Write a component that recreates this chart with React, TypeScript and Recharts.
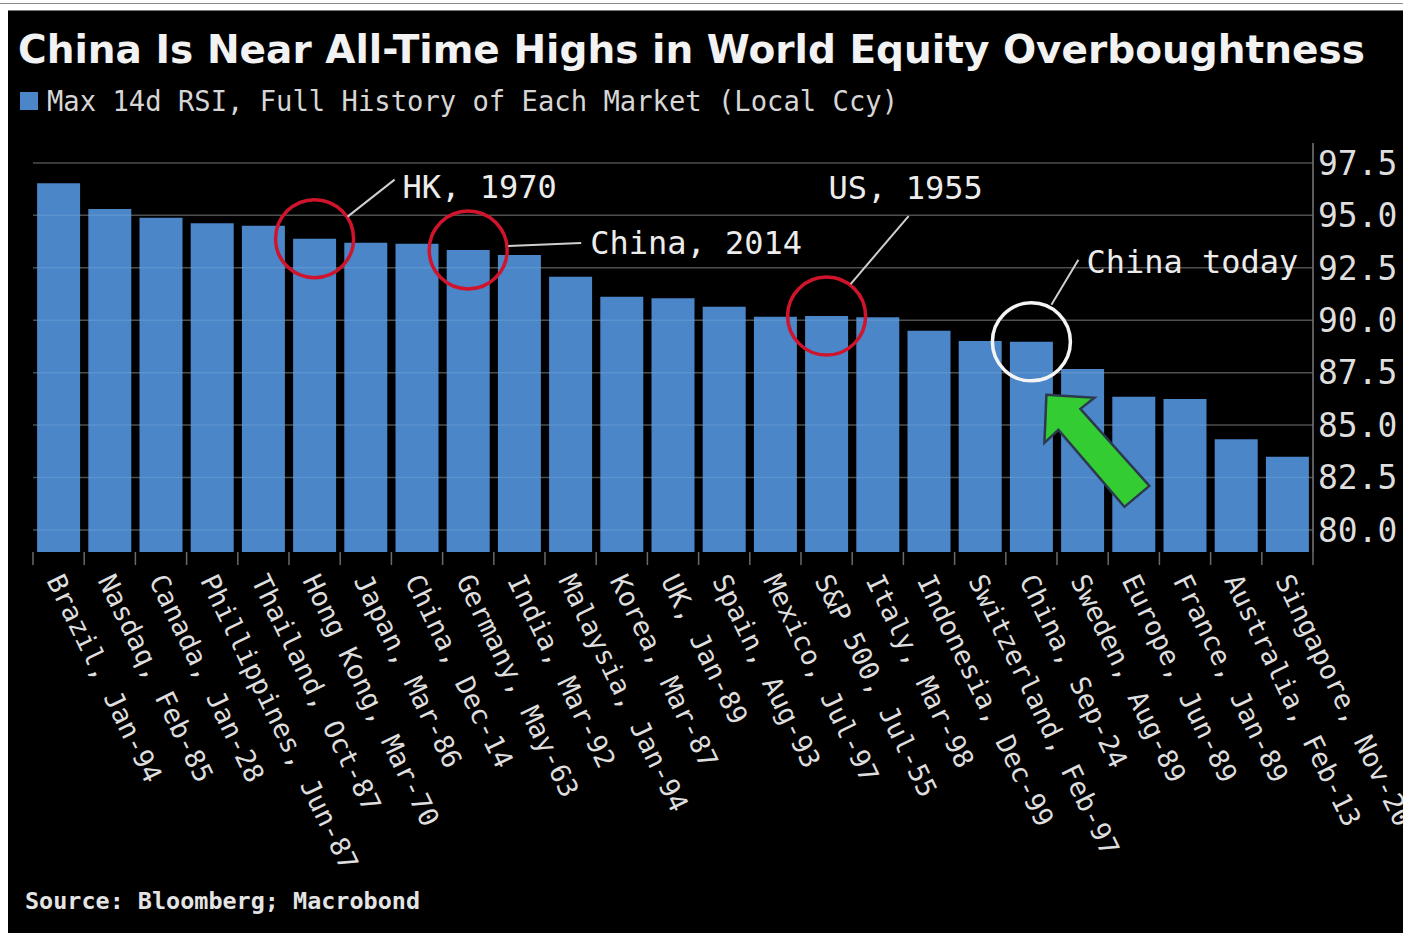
import React from "react";
import { BarChart, Bar, XAxis, YAxis, CartesianGrid, ReferenceLine, ReferenceDot } from "recharts";

// markets and the date of their max 14d RSI
const markets = [
  "Brazil, Jan-94",
  "Nasdaq, Feb-85",
  "Canada, Jan-28",
  "Phillippines, Jun-87",
  "Thailand, Oct-87",
  "Hong Kong, Mar-70",
  "Japan, Mar-86",
  "China, Dec-14",
  "Germany, May-63",
  "India, Mar-92",
  "Malaysia, Jan-94",
  "Korea, Mar-87",
  "UK, Jan-89",
  "Spain, Aug-93",
  "Mexico, Jul-97",
  "S&P 500, Jul-55",
  "Italy, Mar-98",
  "Indonesia, Dec-99",
  "Switzerland, Feb-97",
  "China, Sep-24",
  "Sweden, Aug-89",
  "Europe, Jun-89",
  "France, Jan-89",
  "Australia, Feb-13",
  "Singapore, Nov-20",
];

const maxRsi = [
  96.53, 95.3, 94.89, 94.62, 94.51, 93.89, 93.7, 93.65, 93.35, 93.11, 92.07, 91.12, 91.05,
  90.64, 90.17, 90.2, 90.14, 89.5, 89.01, 88.97, 87.67, 86.35, 86.24, 84.32, 83.49,
];

const yTicks = [80, 82.5, 85, 87.5, 90, 92.5, 95, 97.5];

const data = markets.map((name, i) => ({ name, rsi: maxRsi[i] }));

const W = 1403;
const H = 933;
const PLOT_LEFT = 33;
const PLOT_RIGHT = 1313;
const BAND = (PLOT_RIGHT - PLOT_LEFT) / markets.length;

const BLUE = "#4a86c8";
const TEXT = "#dedede";
const MONO = "'DejaVu Sans Mono', 'Liberation Mono', monospace";

function XTick({ x, y, payload, index }: any) {
  return (
    <g>
      <line x1={x - BAND / 2} x2={x - BAND / 2} y1={y} y2={y + 13} stroke="#6a6a6a" strokeWidth={1.5} />
      {index === markets.length - 1 && (
        <line x1={x + BAND / 2} x2={x + BAND / 2} y1={y} y2={y + 13} stroke="#6a6a6a" strokeWidth={1.5} />
      )}
      <text
        transform={`translate(${x - 4},${y + 24}) rotate(64)`}
        fill={TEXT}
        fontSize={27}
        fontFamily={MONO}
        dominantBaseline="central"
      >
        {payload.value}
      </text>
    </g>
  );
}

// circle + leader + label, drawn relative to the bar top
function Callout({ cx, cy, color, label, line, text }: any) {
  return (
    <g>
      <circle cx={cx} cy={cy} r={39} fill="none" stroke={color} strokeWidth={3.5} />
      <line
        x1={cx + line[0]}
        y1={cy + line[1]}
        x2={cx + line[2]}
        y2={cy + line[3]}
        stroke="#cfcfcf"
        strokeWidth={2}
      />
      <text
        x={cx + text[0]}
        y={cy + text[1]}
        fill="#ececec"
        fontSize={32}
        fontFamily={MONO}
        dominantBaseline="central"
      >
        {label}
      </text>
    </g>
  );
}

function TodayCallout(props: any) {
  const { cx, cy } = props;
  const pts = [
    [15, 53],
    [63, 56],
    [49, 67],
    [118, 144],
    [93, 165],
    [27, 88],
    [13, 101],
  ]
    .map(([dx, dy]) => `${cx + dx},${cy + dy}`)
    .join(" ");
  return (
    <g>
      <Callout {...props} />
      <polygon points={pts} fill="#33cc33" stroke="#2b3a4e" strokeWidth={2.5} strokeLinejoin="miter" />
    </g>
  );
}

export default function App() {
  return (
    <div style={{ position: "relative", width: W, height: H, background: "#fff", overflow: "hidden" }}>
      <style>{"body{margin:0}"}</style>
      <div style={{ position: "absolute", left: 0, top: 3, width: W, height: 1, background: "#8a8a8a" }} />
      <div style={{ position: "absolute", left: 8, top: 10, width: W - 8, height: H - 10, background: "#000", borderTop: "1px solid #777" }} />

      <div style={{ position: "absolute", left: 0, top: 0 }}>
        <BarChart width={W} height={H} data={data} margin={{ top: 143, right: 0, bottom: 51, left: PLOT_LEFT }} barCategoryGap="8%">
          <CartesianGrid vertical={false} horizontalValues={yTicks} stroke="#3a3a3a" strokeWidth={1.5} />
          <XAxis
            dataKey="name"
            interval={0}
            height={330}
            axisLine={false}
            tickLine={false}
            tickSize={0}
            tickMargin={0}
            tick={<XTick />}
          />
          <YAxis
            orientation="right"
            width={90}
            domain={[78.95, 98.45]}
            ticks={yTicks}
            allowDataOverflow
            tickFormatter={(v: number) => v.toFixed(1)}
            axisLine={{ stroke: "#7a7a7a", strokeWidth: 1.5 }}
            tickLine={false}
            tickSize={3}
            tickMargin={2}
            tick={{ fill: TEXT, fontSize: 33, fontFamily: MONO }}
          />
          <Bar dataKey="rsi" fill={BLUE} isAnimationActive={false} />
          {yTicks.map((t) => (
            <ReferenceLine key={t} y={t} stroke="rgba(255,255,255,0.1)" strokeWidth={1.5} />
          ))}
          <ReferenceDot
            x="Hong Kong, Mar-70"
            y={maxRsi[5]}
            r={39}
            shape={(p: any) => (
              <Callout {...p} color="#d0142c" label="HK, 1970" line={[33, -22, 80, -59]} text={[88, -52]} />
            )}
          />
          <ReferenceDot
            x="Germany, May-63"
            y={maxRsi[8]}
            r={39}
            shape={(p: any) => (
              <Callout {...p} color="#d0142c" label="China, 2014" line={[40, -4, 113, -7]} text={[122, -7]} />
            )}
          />
          <ReferenceDot
            x="S&P 500, Jul-55"
            y={maxRsi[15]}
            r={39}
            shape={(p: any) => (
              <Callout {...p} color="#d0142c" label="US, 1955" line={[24, -32, 82, -100]} text={[2, -128]} />
            )}
          />
          <ReferenceDot
            x="China, Sep-24"
            y={maxRsi[19]}
            r={39}
            shape={(p: any) => (
              <TodayCallout {...p} color="#f4f4f4" label="China today" line={[20, -37, 47, -82]} text={[55, -80]} />
            )}
          />
        </BarChart>
      </div>

      <svg width={W} height={H} style={{ position: "absolute", left: 0, top: 0, pointerEvents: "none" }}>
        <text
          x={18}
          y={63}
          fill="#f2f2f2"
          fontSize={39}
          fontWeight="bold"
          fontFamily="'DejaVu Sans', sans-serif"
          textLength={1347}
          lengthAdjust="spacingAndGlyphs"
        >
          China Is Near All-Time Highs in World Equity Overboughtness
        </text>
        <rect x={20} y={92} width={18} height={18} fill={BLUE} />
        <text x={47} y={111} fill="#d6d6d6" fontSize={28} fontFamily={MONO} textLength={851} lengthAdjust="spacingAndGlyphs">
          Max 14d RSI, Full History of Each Market (Local Ccy)
        </text>
        <text
          x={25}
          y={909}
          fill="#e4e4e4"
          fontSize={23}
          fontWeight="bold"
          fontFamily={MONO}
          textLength={395}
          lengthAdjust="spacingAndGlyphs"
        >
          Source: Bloomberg; Macrobond
        </text>
      </svg>
    </div>
  );
}
